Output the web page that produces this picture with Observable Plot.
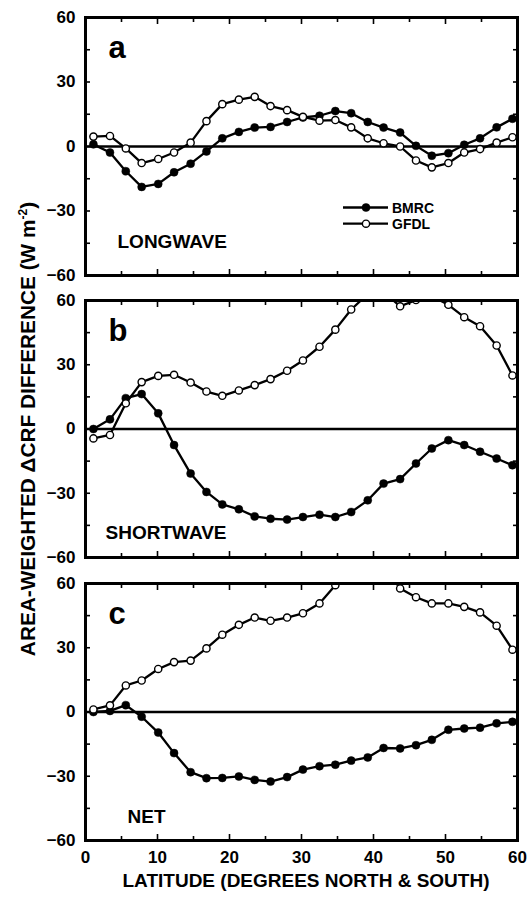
<!DOCTYPE html>
<html>
<head>
<meta charset="utf-8">
<script src="https://cdn.jsdelivr.net/npm/d3@7"></script>
<script src="https://cdn.jsdelivr.net/npm/@observablehq/plot@0.6"></script>
<style>
  body { margin: 0; background: #fff; }
  #chart { position: relative; width: 529px; height: 897px; font-family: "Liberation Sans", Arial, sans-serif; font-weight: bold; color: #000; }
  #chart svg { position: absolute; left: 0; overflow: visible; }
  .ytitle { position: absolute; width: 600px; height: 24px; line-height: 24px; text-align: center; font-size: 20.8px; transform: rotate(-90deg); white-space: nowrap; }
  .ytitle sup { font-size: 12px; vertical-align: 8px; line-height: 0; }
  .xtitle { position: absolute; width: 500px; text-align: center; font-size: 19px; white-space: nowrap; }
</style>
</head>
<body>
<div id="chart"></div>
<script>
// Latitude of each model grid row (degrees north & south, averaged)
const lat = [1.1, 3.4, 5.6, 7.8, 10.1, 12.3, 14.6, 16.8, 19.0, 21.3, 23.5, 25.7, 28.0, 30.2,
             32.5, 34.7, 36.9, 39.2, 41.4, 43.7, 45.9, 48.1, 50.4, 52.6, 54.8, 57.1, 59.3];

// Area-weighted ΔCRF difference (W m-2), longwave
const lwBMRC = [1, -2.8, -11.5, -18.8, -17.4, -12, -8, -2.3, 3.8, 6.8, 8.8, 9.1, 11.4, 13.5,
                14.3, 16.5, 15.5, 11.4, 8.8, 6.5, 0.3, -4.3, -3.1, 0.8, 3.8, 8.9, 12.9];
const lwGFDL = [4.6, 4.9, -0.9, -7.7, -5.8, -2.8, 1.8, 11.8, 19.7, 21.8, 23.1, 18.8, 16.9, 13.8,
                12, 12.3, 8.9, 3.8, 1.5, 0, -6.5, -9.7, -7.7, -2.8, -1.2, 1.8, 4.3];

// Shortwave
const swBMRC = [0, 4.5, 14.4, 16.3, 7.3, -7.5, -20.8, -29.4, -35.2, -37.5, -40.8, -41.9, -42.3, -41.1,
                -40, -41.1, -38.8, -33.3, -25.5, -23.4, -16.1, -9.1, -5.2, -7.5, -10.6, -13.8, -16.9];
const swGFDL = [-4.4, -2.8, 12, 21.9, 24.8, 25.3, 21.7, 17.5, 15.5, 18, 20.5, 23.3, 27.2, 32,
                38.4, 46.4, 55.8, 63, 64, 57.3, 60.2, 62, 58, 52.2, 48, 39, 25];

// Net
const netBMRC = [0, 0.5, 3.2, -2.2, -9.6, -19.2, -28.1, -30.9, -30.8, -30.1, -31.7, -32.5, -30.4, -26.9,
                 -25.3, -24.6, -22.7, -21.2, -16.8, -17, -15.5, -13, -8.3, -7.7, -7.3, -5.3, -4.6];
const netGFDL = [1.2, 3.1, 12.4, 14.7, 20.1, 23.3, 24, 29.7, 36.1, 40.7, 44.1, 42.6, 44.1, 46.1,
                 50.7, 59.2, 64, 68, 68, 57.7, 53.6, 50.7, 50.7, 49.1, 46.5, 40.3, 29.1];

// Axis ticks
const xTicksMajor = [0, 10, 20, 30, 40, 50, 60];
const xTicksMinor = [5, 15, 25, 35, 45, 55];
const yTicksMajor = [-60, -30, 0, 30, 60];
const yTicksMinor = [-45, -15, 15, 45];

const seriesNames = ["BMRC", "GFDL"];

const panels = [
  {letter: "a", name: "LONGWAVE", bmrc: lwBMRC, gfdl: lwGFDL, top: 0, height: 288, mt: 17, mb: 13, nameDx: 32, nameDy: -28, legend: true},
  {letter: "b", name: "SHORTWAVE", bmrc: swBMRC, gfdl: swGFDL, top: 288, height: 283, mt: 12, mb: 14, nameDx: 20, nameDy: -19},
  {letter: "c", name: "NET", bmrc: netBMRC, gfdl: netGFDL, top: 571, height: 326, mt: 12, mb: 57, nameDx: 42, nameDy: -18, xLabels: true}
];

const chart = document.getElementById("chart");
const blank = () => "";

for (const p of panels) {
  const rows = lat.map((x, i) => ({lat: x, bmrc: p.bmrc[i], gfdl: p.gfdl[i]}));
  const marks = [
    Plot.ruleY([0], {strokeWidth: 2.6}),
    // inward ticks on all four sides
    Plot.axisX(xTicksMajor, {anchor: "bottom", tickSize: -6, tickFormat: blank, label: null, strokeWidth: 1.6}),
    Plot.axisX(xTicksMinor, {anchor: "bottom", tickSize: -4, tickFormat: blank, label: null, strokeWidth: 1.6}),
    Plot.axisX(xTicksMajor, {anchor: "top", tickSize: -6, tickFormat: blank, label: null, strokeWidth: 1.6}),
    Plot.axisX(xTicksMinor, {anchor: "top", tickSize: -4, tickFormat: blank, label: null, strokeWidth: 1.6}),
    Plot.axisY(yTicksMajor, {anchor: "left", tickSize: -5, tickFormat: blank, label: null, strokeWidth: 1.6}),
    Plot.axisY(yTicksMinor, {anchor: "left", tickSize: -5, tickFormat: blank, label: null, strokeWidth: 1.6}),
    Plot.axisY(yTicksMajor, {anchor: "right", tickSize: -5, tickFormat: blank, label: null, strokeWidth: 1.6}),
    Plot.axisY(yTicksMinor, {anchor: "right", tickSize: -5, tickFormat: blank, label: null, strokeWidth: 1.6}),
    // y tick labels
    Plot.axisY(yTicksMajor, {anchor: "left", tickSize: 0, tickPadding: 10, label: null, fontSize: 17}),
    // series
    Plot.line(rows, {x: "lat", y: "bmrc", stroke: "black", strokeWidth: 2.3, clip: true}),
    Plot.dot(rows, {x: "lat", y: "bmrc", r: 4, fill: "black", stroke: "black", strokeWidth: 0.5, clip: true}),
    Plot.line(rows, {x: "lat", y: "gfdl", stroke: "black", strokeWidth: 2.3, clip: true}),
    Plot.dot(rows, {x: "lat", y: "gfdl", r: 3.6, fill: "white", stroke: "black", strokeWidth: 1.4, clip: true}),
    Plot.frame({strokeWidth: 3}),
    // panel letter and component name
    Plot.text([p.letter], {frameAnchor: "top-left", dx: 23, dy: 40, lineAnchor: "bottom", textAnchor: "start", fontSize: 31, fontWeight: "bold"}),
    Plot.text([p.name], {frameAnchor: "bottom-left", dx: p.nameDx, dy: p.nameDy, lineAnchor: "bottom", textAnchor: "start", fontSize: 19, fontWeight: "bold"})
  ];
  if (p.xLabels) {
    marks.push(Plot.axisX(xTicksMajor, {anchor: "bottom", tickSize: 0, tickPadding: 10, label: null, fontSize: 17}));
  }
  const svg = Plot.plot({
    width: 529,
    height: p.height,
    marginTop: p.mt,
    marginBottom: p.mb,
    marginLeft: 85,
    marginRight: 12,
    x: {domain: [0, 60]},
    y: {domain: [-60, 60]},
    style: {fontFamily: "'Liberation Sans', Arial, sans-serif", fontWeight: "bold", fontSize: "17px", color: "black", background: "transparent", overflow: "visible"},
    marks
  });
  svg.style.top = p.top + "px";
  chart.appendChild(svg);

  if (p.legend) {
    // legend: line sample with marker, then series name
    const g = d3.select(svg).append("g")
      .attr("font-size", 14).attr("font-weight", "bold").attr("text-anchor", "start");
    seriesNames.forEach((name, i) => {
      const y = 207.5 + i * 16.2;
      g.append("line").attr("x1", 343).attr("x2", 388).attr("y1", y).attr("y2", y)
        .attr("stroke", "black").attr("stroke-width", 2.3);
      g.append("circle").attr("cx", 366).attr("cy", y).attr("r", i === 0 ? 4 : 3.6)
        .attr("fill", i === 0 ? "black" : "white").attr("stroke", "black").attr("stroke-width", i === 0 ? 0.5 : 1.4);
      g.append("text").attr("x", 392).attr("y", y + 5).text(name);
    });
  }
}

const yt = document.createElement("div");
yt.className = "ytitle";
yt.innerHTML = "AREA-WEIGHTED \u0394CRF DIFFERENCE (W m<sup>-2</sup>)";
yt.style.left = (28 - 300) + "px";
yt.style.top = (429 - 12) + "px";
chart.appendChild(yt);

const xt = document.createElement("div");
xt.className = "xtitle";
xt.textContent = "LATITUDE (DEGREES NORTH & SOUTH)";
xt.style.left = (306 - 250) + "px";
xt.style.top = "870px";
chart.appendChild(xt);
</script>
</body>
</html>
